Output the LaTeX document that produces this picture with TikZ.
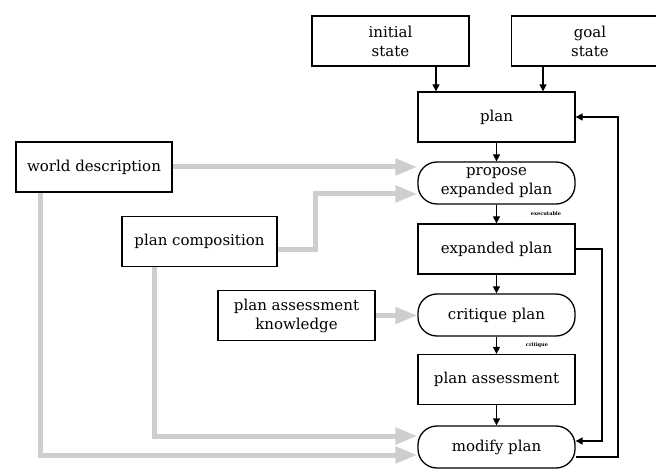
\documentclass[tikz,border=0pt]{standalone}
\usepackage{fontspec}
\newfontfamily\labelfont{DejaVu Serif}
\usetikzlibrary{arrows.meta,backgrounds}
\tikzset{
  box/.style={draw, line width=1.3pt, fill=white, minimum width=157pt,
    minimum height=50pt, inner sep=0pt, align=center,
    font=\labelfont\fontsize{15}{19}\selectfont},
  proc/.style={box, rounded corners=19pt, minimum height=42pt},
  flow/.style={line width=1.3pt, -{Triangle[length=7pt,width=7pt]}},
  feed/.style={line width=5pt, draw={rgb,255:red,206;green,206;blue,206},
    -{Triangle[length=22pt,width=16pt]}},
  tag/.style={inner sep=0pt, font=\labelfont\fontsize{5}{6}\selectfont\bfseries}
}
\begin{document}
\begin{tikzpicture}[x=1pt,y=-1pt]
  \clip (0,0) rectangle (656,470);

  % inputs
  \node[box] (initial) at (390.5,41) {initial\\state};
  \node[box] (goal)    at (590,41)   {goal\\state};

  % main column
  \node[box]  (plan)       at (496.5,117)   {plan};
  \node[proc] (propose)    at (496.5,183)   {propose\\expanded plan};
  \node[box]  (expanded)   at (496.5,249)   {expanded plan};
  \node[proc] (critique)   at (496.5,315)   {critique plan};
  \node[box]  (assessment) at (496.5,379.5) {plan assessment};
  \node[proc] (modify)     at (496.5,447)   {modify plan};

  % knowledge sources
  \node[box, minimum width=156pt] (world)       at (94,167)      {world description};
  \node[box, minimum width=155pt] (composition) at (199.5,241.5) {plan composition};
  \node[box] (knowledge) at (296.5,315.5) {plan assessment\\knowledge};

  % small annotations
  \node[tag] (tagA) at (546,214) {executable};
  \node[tag] (tagB) at (537,345) {critique};

  % control flow
  \coordinate (ia) at (436,0);
  \coordinate (ga) at (543,0);
  \draw[flow] (ia |- initial.south) -- (ia |- plan.north);
  \draw[flow] (ga |- goal.south) -- (ga |- plan.north);
  \draw[flow] (plan) -- (propose);
  \draw[flow] (propose) -- (expanded);
  \draw[flow] (expanded) -- (critique);
  \draw[flow] (critique) -- (assessment);
  \draw[flow] (assessment) -- (modify);

  % feedback loops
  \coordinate (fbi) at (602,0);
  \coordinate (fbo) at (618,0);
  \coordinate (mIn)  at ([yshift=6pt]modify.east);
  \coordinate (mOut) at ([yshift=-10pt]modify.east);
  \draw[flow] (expanded.east) -| (fbi |- mIn) -- (mIn);
  \draw[flow] (mOut) -| (fbo |- plan.east) -- (plan.east);

  % knowledge feeds
  \begin{scope}[on background layer]
    \coordinate (bend) at (315,0);
    \coordinate (wx) at (40,0);
    \coordinate (cx) at (154,0);
    \coordinate (pIn)   at ([yshift=-11pt]propose.west);
    \coordinate (cOut)  at ([yshift=-8pt]composition.east);
    \coordinate (mHigh) at ([yshift=11pt]modify.west);
    \coordinate (mLow)  at ([yshift=-8pt]modify.west);
    \draw[feed] (world.east) -- (world.east -| propose.west);
    \draw[feed] (cOut) -| (bend |- pIn) -- (pIn);
    \draw[feed] (knowledge.east) -- (knowledge.east -| critique.west);
    \draw[feed] (wx |- world.south) -- (wx |- mLow) -- (mLow);
    \draw[feed] (cx |- composition.south) -- (cx |- mHigh) -- (mHigh);
  \end{scope}
\end{tikzpicture}
\end{document}
